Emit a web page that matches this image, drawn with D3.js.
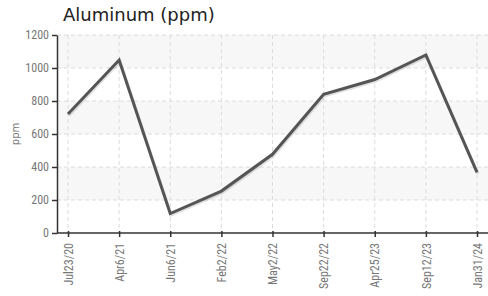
<!DOCTYPE html>
<html>
<head>
<meta charset="utf-8">
<script src="https://cdn.jsdelivr.net/npm/d3@7"></script>
<style>
  body { margin: 0; background: #fff; }
  svg { display: block; }
</style>
</head>
<body>
<div id="chart"></div>
<script>
// values
let dates = ["Jul23/20", "Apr6/21", "Jun6/21", "Feb2/22", "May2/22", "Sep22/22", "Apr25/23", "Sep12/23", "Jan31/24"];
let aluminum = [721, 1048, 118, 254, 477, 840, 930, 1079, 368];
let yTicks = [0, 200, 400, 600, 800, 1000, 1200];

let width = 488, height = 296;
let plotLeft = 57, plotRight = 488, plotTop = 35, plotBottom = 233;

let svg = d3.select("#chart").append("svg")
    .attr("width", width)
    .attr("height", height);

let x = d3.scalePoint().domain(dates).range([68, 477]);
let y = d3.scaleLinear().domain([0, 1200]).range([plotBottom, plotTop]);

// alternating bands
let bands = svg.append("g");
[[200, 400], [600, 800], [1000, 1200]].forEach(b => {
    bands.append("rect")
        .attr("x", plotLeft)
        .attr("y", y(b[1]))
        .attr("width", plotRight - plotLeft)
        .attr("height", y(b[0]) - y(b[1]))
        .attr("fill", "#f7f7f7");
});

// grid
let grid = svg.append("g")
    .attr("stroke", "#dcdcdc")
    .attr("stroke-dasharray", "4,3");
yTicks.slice(1).forEach(t => {
    grid.append("line")
        .attr("x1", plotLeft).attr("x2", plotRight)
        .attr("y1", y(t)).attr("y2", y(t));
});
dates.forEach(d => {
    grid.append("line")
        .attr("x1", x(d)).attr("x2", x(d))
        .attr("y1", plotTop).attr("y2", plotBottom);
});

// line with a soft shadow
let line = d3.line()
    .x((d, i) => x(dates[i]))
    .y(d => y(d));

svg.append("path")
    .datum(aluminum)
    .attr("fill", "none")
    .attr("stroke", "rgba(0,0,0,0.12)")
    .attr("stroke-width", 3)
    .attr("transform", "translate(1,1.5)")
    .attr("d", line);

svg.append("path")
    .datum(aluminum)
    .attr("fill", "none")
    .attr("stroke", "#555")
    .attr("stroke-width", 3)
    .attr("d", line);

// axes
let tickFont = "'Liberation Sans Narrow', 'Roboto Condensed', 'DejaVu Sans Condensed', sans-serif";

let yAxis = svg.append("g")
    .attr("transform", "translate(" + plotLeft + ",0)")
    .call(d3.axisLeft(y).tickValues(yTicks).tickFormat(d3.format("d"))
        .tickSize(5).tickPadding(3).tickSizeOuter(0));
yAxis.select(".domain").attr("stroke", "#333").attr("stroke-width", 1.5);
yAxis.selectAll(".tick line").attr("stroke", "#333").attr("stroke-width", 1.5);
yAxis.selectAll("text")
    .attr("fill", "#777")
    .style("font-family", tickFont)
    .style("font-size", "12px");

let xAxis = svg.append("g")
    .attr("transform", "translate(0," + plotBottom + ")");
xAxis.append("line")
    .attr("x1", plotLeft).attr("x2", plotRight)
    .attr("stroke", "#333").attr("stroke-width", 1.5);
xAxis.call(d3.axisBottom(x).tickSize(4).tickSizeOuter(0));
xAxis.select(".domain").remove();
xAxis.selectAll(".tick line")
    .attr("y1", -2)
    .attr("stroke", "#333").attr("stroke-width", 1.5);
xAxis.selectAll("text")
    .attr("fill", "#777")
    .style("font-family", tickFont)
    .style("font-size", "12px")
    .attr("text-anchor", "end")
    .attr("dy", "0.35em")
    .attr("transform", "translate(0,10) rotate(-90)")
    .attr("x", 0)
    .attr("y", 0);

// y label
svg.append("text")
    .attr("transform", "translate(19," + ((plotTop + plotBottom) / 2) + ") rotate(-90)")
    .attr("text-anchor", "middle")
    .attr("fill", "#777")
    .style("font-family", "'DejaVu Sans', sans-serif")
    .style("font-size", "10px")
    .text("ppm");

// title
svg.append("text")
    .attr("x", 63)
    .attr("y", 21)
    .attr("fill", "#222")
    .style("font-family", "'DejaVu Sans', sans-serif")
    .style("font-size", "18px")
    .text("Aluminum (ppm)");
</script>
</body>
</html>
